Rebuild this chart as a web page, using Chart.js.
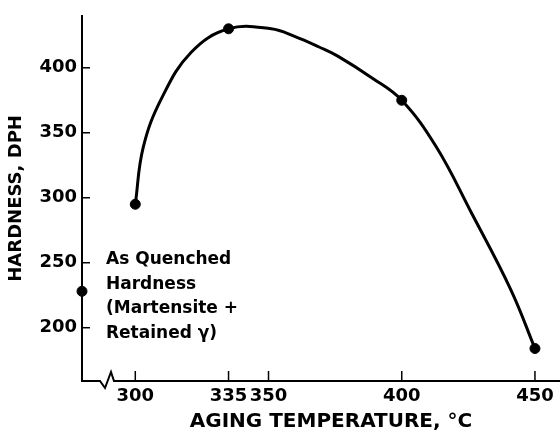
<!DOCTYPE html>
<html>
<head>
<meta charset="utf-8">
<script src="https://cdn.jsdelivr.net/npm/chart.js@4.4.0/dist/chart.umd.min.js"></script>
<style>
  html, body { margin: 0; padding: 0; background: #fff; }
  #wrap { width: 560px; height: 435px; }
</style>
</head>
<body>
<div id="wrap"><canvas id="hardness-chart"></canvas></div>
<script>
const tempTicks = [300, 335, 350, 400, 450];
const hardnessTicks = [200, 250, 300, 350, 400];

// measured points (aging temperature, hardness)
const agingTemps = [300, 335, 400, 450];
const agingHardness = [295, 430, 375, 184];

// as quenched point sits on the axis
const quenchedTemp = [280];
const quenchedHardness = [228];

// the drawn curve
const curveTemps = [300, 303, 310, 321, 335, 351, 360, 369, 376, 389, 400, 413, 426, 441, 450];
const curveHardness = [295, 339, 377, 412, 430, 430, 424, 416, 409, 392, 375, 339, 289, 229, 184];

const noteLines = ['As Quenched', 'Hardness', '(Martensite +', 'Retained \u03b3)'];
const xTitle = 'AGING TEMPERATURE, \u00b0C';

Chart.defaults.font.family = "'DejaVu Sans', sans-serif";
Chart.defaults.color = '#000';

function toXY(xs, ys) {
    return xs.map((x, i) => ({ x: x, y: ys[i] }));
}

const axisDecor = {
    id: 'axisDecor',
    afterDraw(chart) {
        const ctx = chart.ctx;
        const area = chart.chartArea;
        const xs = chart.scales.x;
        const ys = chart.scales.y;
        const y0 = area.bottom;
        const x0 = area.left;

        ctx.save();
        ctx.strokeStyle = '#000';
        ctx.lineWidth = 2;
        ctx.lineJoin = 'miter';

        // x axis with the break
        ctx.beginPath();
        ctx.moveTo(x0, y0);
        ctx.lineTo(x0 + 18, y0);
        ctx.lineTo(x0 + 23, y0 + 7);
        ctx.lineTo(x0 + 29, y0 - 9);
        ctx.lineTo(x0 + 32, y0);
        ctx.lineTo(area.right, y0);
        ctx.stroke();

        // inward tick marks
        ctx.lineWidth = 1.5;
        tempTicks.forEach(v => {
            const px = xs.getPixelForValue(v);
            ctx.beginPath();
            ctx.moveTo(px, y0);
            ctx.lineTo(px, y0 - 10);
            ctx.stroke();
        });
        hardnessTicks.forEach(v => {
            const py = ys.getPixelForValue(v);
            ctx.beginPath();
            ctx.moveTo(x0, py);
            ctx.lineTo(x0 + 8, py);
            ctx.stroke();
        });

        ctx.fillStyle = '#000';
        ctx.textBaseline = 'middle';

        // x title, sits a bit right of the axis centre
        ctx.font = "bold 20px 'DejaVu Sans'";
        ctx.textAlign = 'center';
        ctx.fillText(xTitle, x0 + 249, y0 + 41);

        // note next to the as quenched point
        const yq = ys.getPixelForValue(quenchedHardness[0]);
        ctx.font = "bold 17px 'DejaVu Sans'";
        ctx.textAlign = 'left';
        const offs = [-32, -7, 17, 42];
        noteLines.forEach((t, i) => {
            ctx.fillText(t, x0 + 24, yq + offs[i]);
        });
        ctx.restore();
    }
};

const ctx = document.getElementById('hardness-chart');

new Chart(ctx, {
    type: 'line',
    data: {
        datasets: [{
            data: toXY(curveTemps, curveHardness),
            borderColor: '#000',
            borderWidth: 3,
            pointRadius: 0,
            tension: 0.4,
            fill: false
        },
        {
            data: toXY(agingTemps, agingHardness),
            showLine: false,
            pointRadius: 5,
            pointBackgroundColor: '#000',
            pointBorderColor: '#000',
            clip: false
        },
        {
            data: toXY(quenchedTemp, quenchedHardness),
            showLine: false,
            pointRadius: 5,
            pointBackgroundColor: '#000',
            pointBorderColor: '#000',
            clip: false
        }]
    },
    options: {
        responsive: true,
        maintainAspectRatio: false,
        animation: false,
        layout: { autoPadding: false, padding: { top: 5, right: 0, left: 0, bottom: 0 } },
        plugins: {
            legend: { display: false },
            tooltip: { enabled: false }
        },
        scales: {
            x: {
                type: 'linear',
                min: 280,
                max: 459.4,
                afterBuildTicks: (scale) => {
                    scale.ticks = tempTicks.map(v => ({ value: v }));
                },
                afterFit: (scale) => {
                    scale.height = 54;
                    scale.paddingLeft = 0;
                    scale.paddingRight = 0;
                },
                grid: { display: false, drawTicks: false },
                border: { display: false },
                ticks: {
                    padding: 5,
                    font: { size: 18, weight: 'bold' },
                    maxRotation: 0,
                    autoSkip: false
                },
                title: { display: false }
            },
            y: {
                min: 159,
                max: 440,
                afterBuildTicks: (scale) => {
                    scale.ticks = hardnessTicks.map(v => ({ value: v }));
                },
                afterFit: (scale) => { scale.width = 82; },
                grid: { display: false, drawTicks: false },
                border: { display: true, color: '#000', width: 2 },
                ticks: {
                    padding: 5,
                    font: { size: 18, weight: 'bold' }
                },
                title: {
                    display: true,
                    text: 'HARDNESS, DPH',
                    font: { size: 18, weight: 'bold' },
                    padding: { top: 6, bottom: 0 }
                }
            }
        }
    },
    plugins: [axisDecor]
});
</script>
</body>
</html>
